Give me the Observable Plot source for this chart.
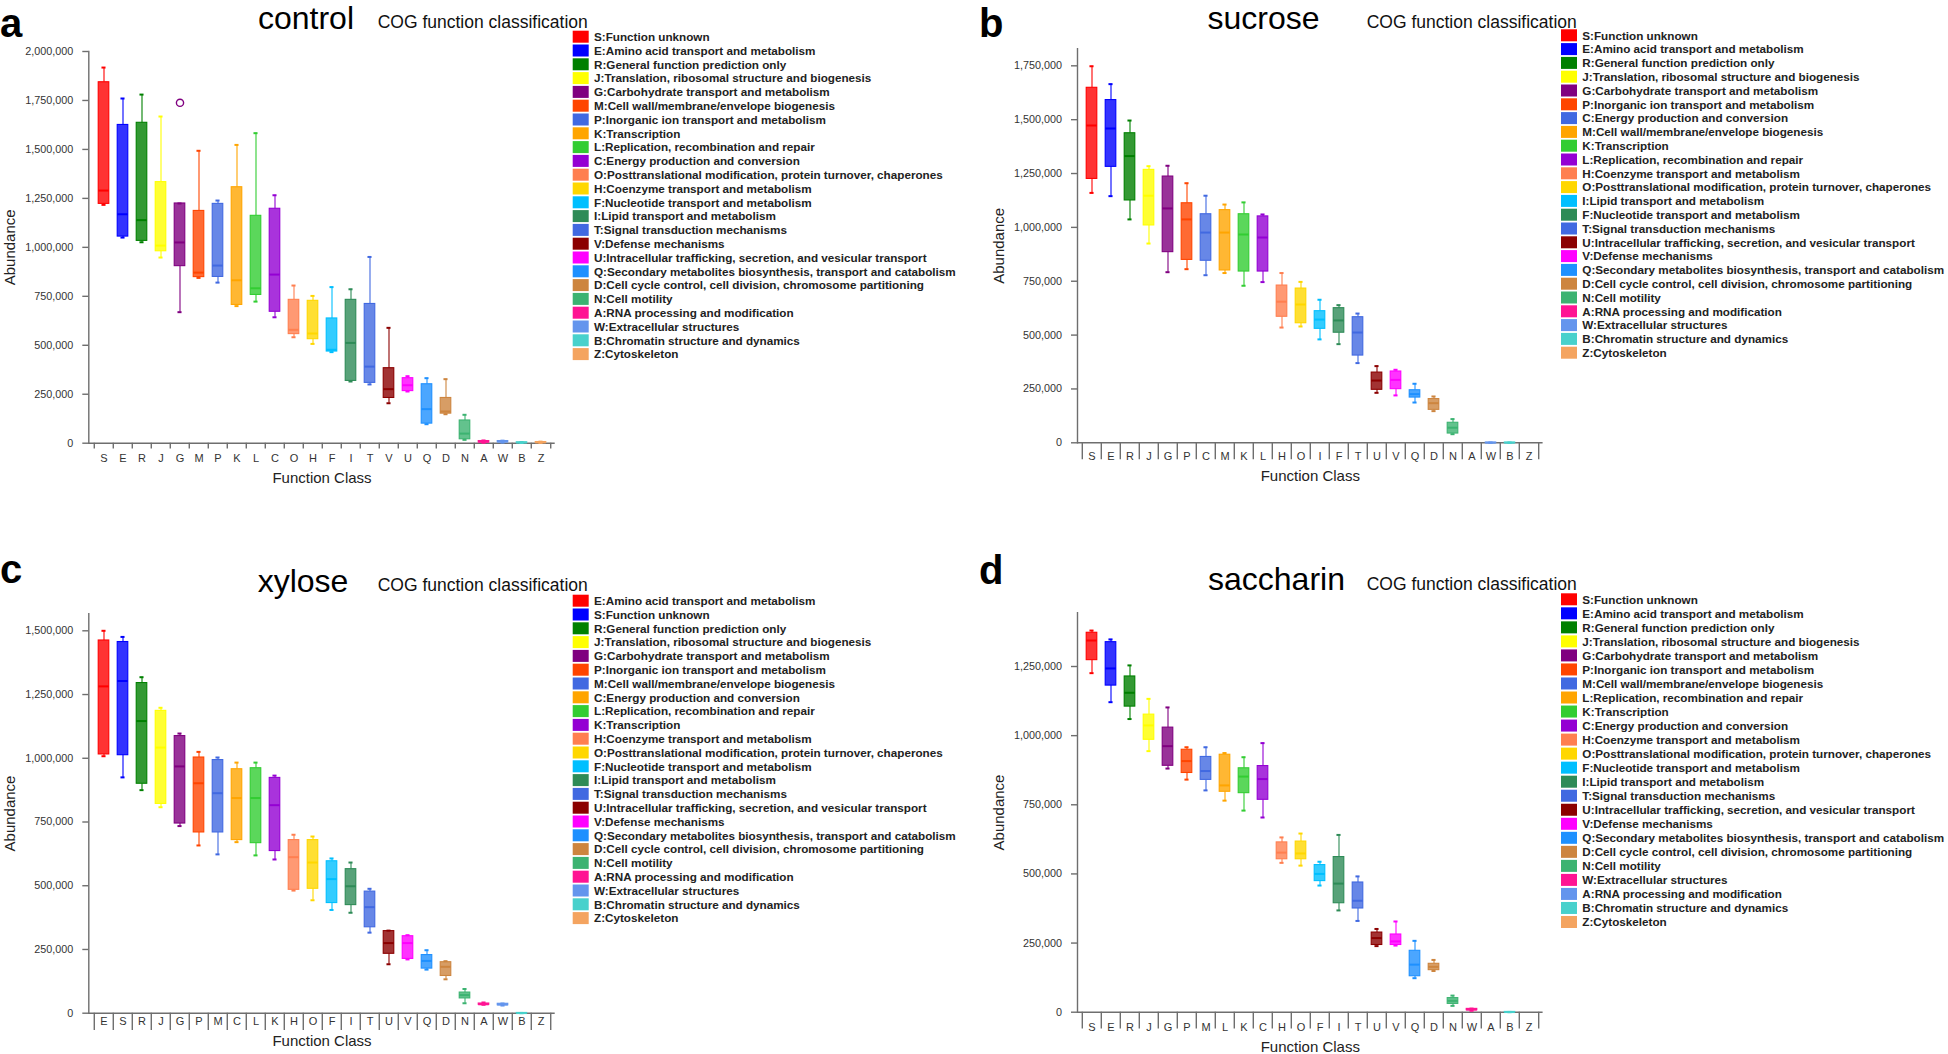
<!DOCTYPE html>
<html><head><meta charset="utf-8">
<script src="https://cdn.jsdelivr.net/npm/d3@7"></script>
<script src="https://cdn.jsdelivr.net/npm/@observablehq/plot@0.6"></script>
<style>
html,body{margin:0;padding:0;background:#fff;}
#root{position:relative;width:1948px;height:1054px;overflow:hidden;font-family:"Liberation Sans",Arial,sans-serif;}
#root svg.panel{position:absolute;}
#overlay{position:absolute;left:0;top:0;pointer-events:none;}
</style></head><body><div id="root"></div>
<script>
// ---------- COG category descriptions ----------
const cogNames = {
  S:"Function unknown", E:"Amino acid transport and metabolism", R:"General function prediction only",
  J:"Translation, ribosomal structure and biogenesis", G:"Carbohydrate transport and metabolism",
  M:"Cell wall/membrane/envelope biogenesis", P:"Inorganic ion transport and metabolism", K:"Transcription",
  L:"Replication, recombination and repair", C:"Energy production and conversion",
  O:"Posttranslational modification, protein turnover, chaperones", H:"Coenzyme transport and metabolism",
  F:"Nucleotide transport and metabolism", I:"Lipid transport and metabolism", T:"Signal transduction mechanisms",
  V:"Defense mechanisms", U:"Intracellular trafficking, secretion, and vesicular transport",
  Q:"Secondary metabolites biosynthesis, transport and catabolism",
  D:"Cell cycle control, cell division, chromosome partitioning", N:"Cell motility",
  A:"RNA processing and modification", W:"Extracellular structures", B:"Chromatin structure and dynamics",
  Z:"Cytoskeleton"
};
// colours are assigned by rank position within each panel
const palette = ["#FF0000","#0000FF","#008000","#FFFF00","#800080","#FF4500","#4169E1","#FFA500","#32CD32","#9400D3","#FF7F50","#FFD700","#00BFFF","#2E8B57","#4169E1","#8B0000","#FF00FF","#1E90FF","#CD853F","#3CB371","#FF1493","#6495ED","#48D1CC","#F4A460"];

// ---------- a: control ----------
const controlOrder = ["S","E","R","J","G","M","P","K","L","C","O","H","F","I","T","V","U","Q","D","N","A","W","B","Z"];
const controlMin = [1217000,1050000,1026000,948000,669000,844000,820000,700000,723000,643000,541000,507000,465000,315000,300000,204000,264000,97000,148000,17000,2000,3000,1000,1500];
const controlQ1  = [1222000,1055000,1033000,980000,904000,848000,849000,706000,757000,671000,557000,531000,468000,318000,308000,231000,266000,100000,151000,20000,4000,5000,2000,2500];
const controlMed = [1290000,1169000,1139000,1009000,1025000,871000,907000,832000,791000,861000,579000,560000,477000,512000,391000,276000,296000,174000,162000,49000,7000,8000,3000,4000];
const controlQ3  = [1843000,1625000,1636000,1333000,1224000,1186000,1222000,1307000,1161000,1197000,732000,727000,637000,732000,711000,383000,332000,301000,231000,116000,11000,11000,4500,6000];
const controlMax = [1918000,1760000,1780000,1668000,1224000,1493000,1239000,1523000,1583000,1266000,805000,752000,797000,786000,951000,589000,342000,332000,327000,145000,14000,13000,6000,8000];
const controlOutliers = [{k:"G", v:1738000}];
const controlTicks = [0,250000,500000,750000,1000000,1250000,1500000,1750000,2000000];

// ---------- b: sucrose ----------
const sucroseOrder = ["S","E","R","J","G","P","C","M","K","L","H","O","I","F","T","U","V","Q","D","N","A","W","B","Z"];
const sucroseMin = [1160000,1145000,1037000,925000,792000,806000,778000,788000,729000,746000,535000,540000,480000,458000,370000,232000,220000,187000,147000,40000,null,0,0,null];
const sucroseQ1  = [1225000,1281000,1125000,1009000,885000,849000,845000,800000,795000,795000,585000,555000,529000,511000,405000,246000,249000,210000,153000,43000,null,0,0,null];
const sucroseMed = [1473000,1459000,1331000,1147000,1088000,1037000,976000,976000,967000,953000,655000,642000,572000,568000,512000,289000,292000,226000,184000,70000,null,500,500,null];
const sucroseQ3  = [1648000,1591000,1437000,1267000,1236000,1112000,1061000,1080000,1061000,1051000,730000,716000,611000,625000,583000,326000,331000,244000,203000,93000,null,1000,1000,null];
const sucroseMax = [1748000,1665000,1496000,1284000,1286000,1205000,1147000,1106000,1116000,1060000,788000,747000,664000,639000,600000,356000,339000,274000,215000,110000,null,1000,1000,null];
const sucroseTicks = [0,250000,500000,750000,1000000,1250000,1500000,1750000];

// ---------- c: xylose ----------
const xyloseOrder = ["E","S","R","J","G","P","M","C","L","K","H","O","F","I","T","U","V","Q","D","N","A","W","B","Z"];
const xyloseMin = [1008000,925000,875000,808000,734000,658000,623000,671000,619000,603000,481000,443000,405000,394000,316000,192000,211000,171000,133000,39000,33000,30000,0,null];
const xyloseQ1  = [1015000,1012000,900000,821000,744000,709000,709000,679000,667000,636000,484000,488000,432000,424000,337000,233000,213000,175000,146000,58000,33000,31000,0,null];
const xyloseMed = [1282000,1303000,1146000,1042000,968000,902000,863000,844000,844000,816000,612000,591000,526000,498000,416000,275000,275000,205000,182000,71000,35000,34000,500,null];
const xyloseQ3  = [1462000,1456000,1295000,1186000,1087000,1003000,993000,957000,961000,923000,679000,679000,596000,565000,477000,322000,302000,228000,200000,81000,38000,37000,1000,null];
const xyloseMax = [1500000,1476000,1318000,1198000,1097000,1025000,1003000,983000,983000,932000,700000,693000,607000,591000,488000,324000,306000,247000,204000,95000,42000,38000,1000,null];
const xyloseTicks = [0,250000,500000,750000,1000000,1250000,1500000];

// ---------- d: saccharin ----------
const saccharinOrder = ["S","E","R","J","G","P","M","L","K","C","H","O","F","I","T","U","V","Q","D","N","W","A","B","Z"];
const saccharinMin = [1226000,1121000,1060000,944000,881000,841000,802000,765000,729000,704000,540000,530000,458000,368000,330000,239000,241000,123000,149000,23000,5000,null,0,null];
const saccharinQ1  = [1273000,1181000,1105000,985000,891000,865000,840000,797000,792000,768000,553000,553000,474000,394000,375000,243000,243000,130000,152000,30000,7000,null,0,null];
const saccharinMed = [1344000,1243000,1155000,1037000,962000,908000,872000,820000,852000,843000,577000,574000,500000,465000,403000,268000,256000,172000,164000,41000,9500,null,500,null];
const saccharinQ3  = [1372000,1338000,1214000,1076000,1029000,949000,923000,931000,882000,890000,614000,617000,532000,561000,469000,288000,281000,222000,175000,51000,12000,null,1000,null];
const saccharinMax = [1380000,1348000,1254000,1133000,1102000,958000,958000,937000,922000,973000,632000,646000,544000,641000,491000,301000,328000,258000,189000,60000,13000,null,1000,null];
const saccharinTicks = [0,250000,500000,750000,1000000,1250000];

// ---------- layout ----------
const panels = [
  {id:"a", title:"control", order:controlOrder, min:controlMin, q1:controlQ1, med:controlMed, q3:controlQ3, max:controlMax, outliers:controlOutliers, ticks:controlTicks,
   left:0, top:0, width:570, height:495, ml:88.3, mr:15.3, mt:51, mb:52.3, yTop:2000000, sep:5.7, xpad:10.8, xlo:39.6, ylo:84.3,
   letterX:0, letterY:36.5, titleX:306, titleY:29.2, cogX:377.7, cogY:27.8, legX:572.7, legY:36.7, legStep:13.8},
  {id:"b", title:"sucrose", order:sucroseOrder, min:sucroseMin, q1:sucroseQ1, med:sucroseMed, q3:sucroseQ3, max:sucroseMax, outliers:[], ticks:sucroseTicks,
   left:980, top:0, width:570, height:495, ml:97, mr:7.4, mt:48.3, mb:52.7, yTop:1829000, sep:17, xpad:9.2, xlo:37.7, ylo:83.7,
   letterX:979, letterY:36.5, titleX:1263.5, titleY:29.2, cogX:1366.7, cogY:27.8, legX:1561, legY:35.3, legStep:13.8},
  {id:"c", title:"xylose", order:xyloseOrder, min:xyloseMin, q1:xyloseQ1, med:xyloseMed, q3:xyloseQ3, max:xyloseMax, outliers:[], ticks:xyloseTicks,
   left:0, top:560, width:570, height:494, ml:88.3, mr:15.3, mt:53.3, mb:41.3, yTop:1566700, sep:17.3, xpad:3.8, xlo:33, ylo:84.3,
   letterX:0, letterY:583, titleX:303, titleY:591.7, cogX:377.7, cogY:591, legX:572.7, legY:600.7, legStep:13.8},
  {id:"d", title:"saccharin", order:saccharinOrder, min:saccharinMin, q1:saccharinQ1, med:saccharinMed, q3:saccharinQ3, max:saccharinMax, outliers:[], ticks:saccharinTicks,
   left:980, top:560, width:570, height:494, ml:97, mr:7.4, mt:52.3, mb:42.3, yTop:1444200, sep:16.7, xpad:10.5, xlo:39.6, ylo:83.7,
   letterX:979, letterY:584, titleX:1276.5, titleY:590, cogX:1366.7, cogY:590, legX:1561, legY:599.3, legStep:14.03}
];

const FONT = '"Liberation Sans", Arial, sans-serif';
const AXIS = "#6e6e6e";
const root = document.getElementById("root");

for (const p of panels) {
  const rows = p.order.map((k, i) => ({k, min:p.min[i], q1:p.q1[i], med:p.med[i], q3:p.q3[i], max:p.max[i]}))
                      .filter(d => d.med != null);
  const bw = (p.width - p.ml - p.mr) / p.order.length;
  const boxInset = (bw - 11) / 2;
  const capInset = (bw - 4.5) / 2;
  const chart = Plot.plot({
    width: p.width, height: p.height,
    marginLeft: p.ml, marginRight: p.mr, marginTop: p.mt, marginBottom: p.mb,
    style: {fontFamily: FONT, background: "transparent", overflow: "visible"},
    x: {type: "band", domain: p.order, padding: 0},
    y: {domain: [0, p.yTop]},
    color: {type: "ordinal", domain: p.order, range: palette},
    marks: [
      Plot.ruleY([0], {stroke: AXIS, strokeWidth: 1.4}),
      Plot.frame({anchor: "left", stroke: AXIS, strokeWidth: 1.4}),
      Plot.ruleX(p.order, {x: d => d, y1: 0, y2: 0, insetBottom: -p.sep, dx: -bw / 2, stroke: AXIS, strokeWidth: 1.4}),
      Plot.ruleX(p.order.slice(-1), {x: d => d, y1: 0, y2: 0, insetBottom: -p.sep, dx: bw / 2, stroke: AXIS, strokeWidth: 1.4}),
      Plot.axisY({ticks: p.ticks, tickSize: 6, tickPadding: 9.5, tickFormat: d3.format(","), fontSize: 10.8, fill: "#333", stroke: AXIS, strokeWidth: 1.4, label: null}),
      Plot.axisY({ticks: [], tickSize: 0, label: "Abundance", labelAnchor: "center", labelArrow: "none", labelOffset: p.ylo, fontSize: 15, fill: "#222"}),
      Plot.axisX({tickSize: 0, tickPadding: p.xpad, fontSize: 11, fill: "#333", label: null}),
      Plot.axisX({ticks: [], tickSize: 0, label: "Function Class", labelAnchor: "center", labelOffset: p.xlo, fontSize: 15, fill: "#222"}),
      // whiskers
      Plot.ruleX(rows, {x: "k", y1: "q3", y2: "max", stroke: "k", strokeWidth: 1.1}),
      Plot.ruleX(rows, {x: "k", y1: "min", y2: "q1", stroke: "k", strokeWidth: 1.1}),
      Plot.tickY(rows, {x: "k", y: "max", stroke: "k", strokeWidth: 2, insetLeft: capInset, insetRight: capInset}),
      Plot.tickY(rows, {x: "k", y: "min", stroke: "k", strokeWidth: 2, insetLeft: capInset, insetRight: capInset}),
      // boxes
      Plot.barY(rows, {x: "k", y1: "q1", y2: "q3", fill: "k", fillOpacity: 0.8, stroke: "k", strokeWidth: 1.1, insetLeft: boxInset, insetRight: boxInset}),
      Plot.tickY(rows, {x: "k", y: "med", stroke: "k", strokeWidth: 2, insetLeft: boxInset, insetRight: boxInset}),
      Plot.dot(p.outliers, {x: "k", y: "v", r: 3.6, stroke: "k", strokeWidth: 1.4, fill: "none"})
    ]
  });
  chart.classList.add("panel");
  chart.style.left = p.left + "px";
  chart.style.top = p.top + "px";
  chart.style.position = "absolute";
  root.appendChild(chart);
}

// ---------- titles and legends ----------
const ov = d3.select(root).append("svg").attr("id", "overlay").attr("width", 1948).attr("height", 1054)
  .style("font-family", FONT);
for (const p of panels) {
  const g = ov.append("g");
  g.append("text").attr("x", p.letterX).attr("y", p.letterY).style("font-size", "40px").style("font-weight", "bold").attr("fill", "#000").text(p.id);
  g.append("text").attr("x", p.titleX).attr("y", p.titleY).attr("text-anchor", "middle").style("font-size", "32px").attr("fill", "#000").text(p.title);
  g.append("text").attr("x", p.cogX).attr("y", p.cogY).style("font-size", "17.5px").attr("fill", "#111").text("COG function classification");
  p.order.forEach((k, i) => {
    const cy = p.legY + i * p.legStep;
    g.append("rect").attr("x", p.legX).attr("y", cy - 6).attr("width", 16).attr("height", 12).attr("fill", palette[i]);
    g.append("text").attr("x", p.legX + 21.3).attr("y", cy).attr("dy", "0.36em")
      .style("font-size", "11.7px").style("font-weight", "bold").attr("fill", "#222")
      .text(k + ":" + cogNames[k]);
  });
}
</script></body></html>
